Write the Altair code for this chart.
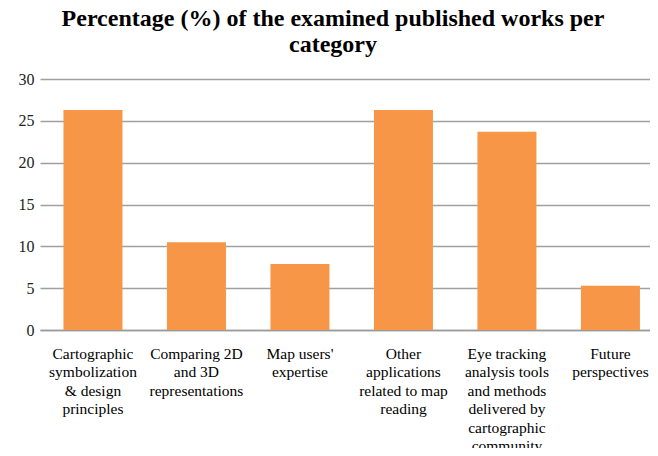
import altair as alt
import pandas as pd

categories = [
    "Cartographic|symbolization|& design|principles",
    "Comparing 2D|and 3D|representations",
    "Map users'|expertise",
    "Other|applications|related to map|reading",
    "Eye tracking|analysis tools|and methods|delivered by|cartographic|community",
    "Future|perspectives",
]
percentages = [26.3, 10.5, 7.9, 26.3, 23.7, 5.3]

df = pd.DataFrame({"category": categories, "pct": percentages})

serif = "Liberation Serif"

chart = (
    alt.Chart(df)
    .mark_bar(color="#F79646")
    .encode(
        x=alt.X(
            "category:N",
            sort=categories,
            scale=alt.Scale(paddingInner=0.43, paddingOuter=0.162, align=0.7),
            axis=alt.Axis(
                title=None,
                labelAngle=0,
                labelFont=serif,
                labelFontSize=15.5,
                labelColor="#000000",
                labelLineHeight=18.5,
                labelPadding=16,
                labelBaseline="top",
                labelLimit=0,
                labelExpr="split(datum.label, '|')",
                ticks=False,
                domainColor="#9a9a9a",
                domainWidth=1.5,
            ),
        ),
        y=alt.Y(
            "pct:Q",
            scale=alt.Scale(domain=[0, 30], nice=False),
            axis=alt.Axis(
                title=None,
                values=[0, 5, 10, 15, 20, 25, 30],
                labelFont=serif,
                labelFontSize=16,
                labelColor="#222222",
                labelPadding=6,
                ticks=False,
                domain=False,
                grid=True,
                gridColor="#a0a0a0",
                gridWidth=1.5,
            ),
        ),
    )
    .properties(
        width=610,
        height=251,
        autosize=alt.AutoSizeParams(type="none"),
        padding={"left": 32, "top": 71, "right": 0, "bottom": 118},
        title=alt.TitleParams(
            ["Percentage (%) of the examined published works per", "category"],
            font=serif,
            fontSize=24,
            fontWeight="bold",
            color="#000000",
            anchor="middle",
            lineHeight=26,
            offset=14,
            dx=-12,
        ),
    )
    .configure_view(stroke=None)
)

chart.save("out.html", embed_options={"renderer": "svg", "actions": False})
